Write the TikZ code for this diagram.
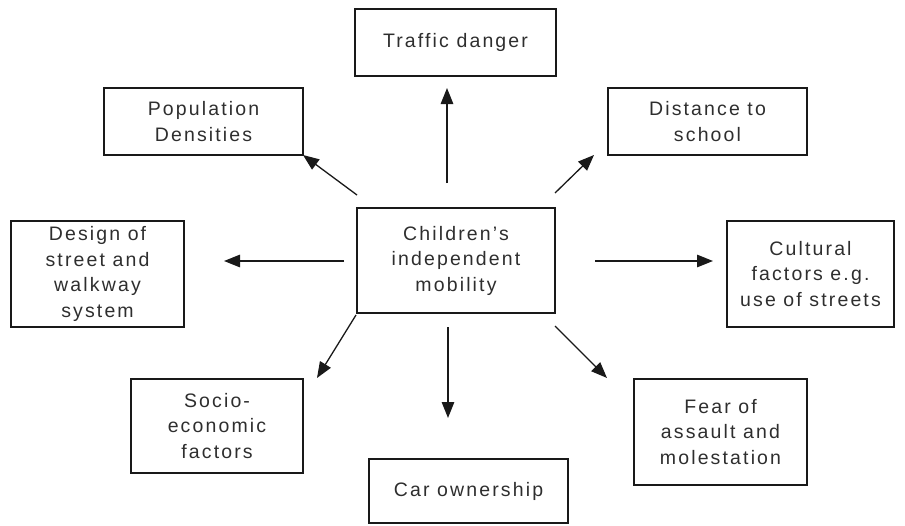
\documentclass[tikz,border=0pt]{standalone}
\usepackage{fontspec}
\setmainfont{Liberation Sans}[LetterSpace=11]
\usetikzlibrary{arrows.meta}
\definecolor{txt}{HTML}{2E2E2E}
\tikzset{
  box/.style={draw=black!90, line width=1.4pt, rectangle, align=center, inner sep=0pt,
    text=txt, font=\fontsize{19.5}{25.5}\selectfont},
  arr/.style={line width=1.3pt, draw=black!90, -{Triangle[length=16pt,width=12.5pt]}}
}
\begin{document}
\begin{tikzpicture}[x=1pt,y=-1pt]
\useasboundingbox (0,0) rectangle (905,525);
\node[box, minimum width=198pt, minimum height=105pt] (c) at (456,260.5) {Children's\\independent\\mobility};
\node[box, minimum width=201pt, minimum height=67pt] (traffic) at (455.5,42.5) {Traffic danger};
\node[box, minimum width=199pt, minimum height=67pt] (pop) at (203.5,121.5) {Population\\Densities};
\node[box, minimum width=199pt, minimum height=67pt] (dist) at (707.5,121.5) {Distance to\\school};
\node[box, minimum width=173pt, minimum height=106pt] (design) at (97.5,274) {Design of\\street and\\walkway\\system};
\node[box, minimum width=167pt, minimum height=106pt] (cult) at (810.5,274) {Cultural\\factors e.g.\\use of streets};
\node[box, minimum width=172pt, minimum height=94pt] (socio) at (217,426) {Socio-\\economic\\factors};
\node[box, minimum width=173pt, minimum height=106pt] (fear) at (720.5,432) {Fear of\\assault and\\molestation};
\node[box, minimum width=199pt, minimum height=64pt] (car) at (468.5,491) {Car ownership};

\coordinate (uS) at (447,183); \coordinate (uE) at (447,88);
\coordinate (dS) at (448,327); \coordinate (dE) at (448,418);
\coordinate (lS) at (344,261); \coordinate (lE) at (224,261);
\coordinate (rS) at (595,261); \coordinate (rE) at (713,261);
\coordinate (plS) at (357,195); \coordinate (plE) at (303,155);
\coordinate (dsS) at (555,193); \coordinate (dsE) at (594,155);
\coordinate (soS) at (356,315); \coordinate (soE) at (317,378);
\coordinate (feS) at (555,326); \coordinate (feE) at (607,378);

\draw[arr] (uS) -- (uE);
\draw[arr] (dS) -- (dE);
\draw[arr] (lS) -- (lE);
\draw[arr] (rS) -- (rE);
\draw[arr] (plS) -- (plE);
\draw[arr] (dsS) -- (dsE);
\draw[arr] (soS) -- (soE);
\draw[arr] (feS) -- (feE);
\end{tikzpicture}
\end{document}
